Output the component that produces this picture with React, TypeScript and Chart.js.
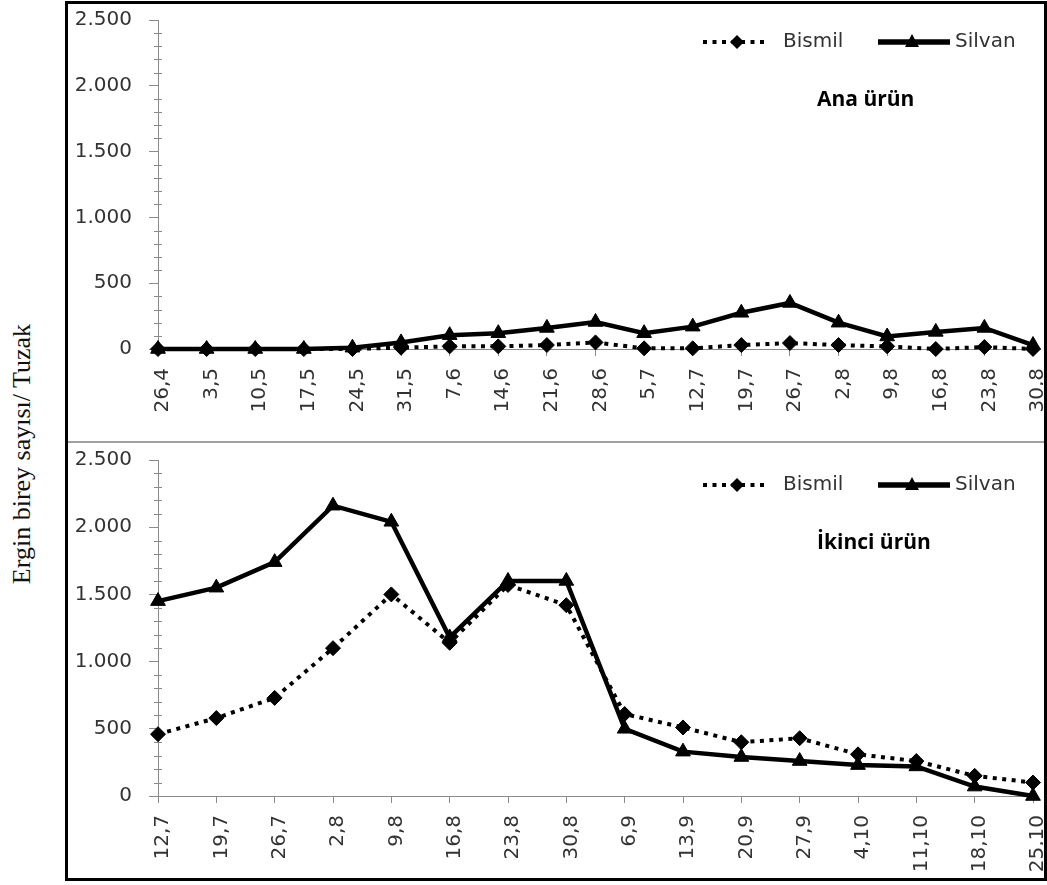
import React, { useEffect, useRef } from 'react';
import { Chart, registerables } from 'chart.js';

Chart.register(...registerables);

// ---- Data ----
const seriesNames = ['Bismil', 'Silvan'];

const topCategories = ['26,4', '3,5', '10,5', '17,5', '24,5', '31,5', '7,6', '14,6', '21,6', '28,6', '5,7', '12,7', '19,7', '26,7', '2,8', '9,8', '16,8', '23,8', '30,8'];
const topBismil = [0, 0, 0, 0, 0, 10, 20, 20, 30, 50, 5, 5, 30, 45, 30, 20, 0, 15, 0];
const topSilvan = [0, 0, 0, 0, 10, 50, 105, 120, 160, 205, 120, 170, 275, 350, 200, 95, 130, 160, 30];

const bottomCategories = ['12,7', '19,7', '26,7', '2,8', '9,8', '16,8', '23,8', '30,8', '6,9', '13,9', '20,9', '27,9', '4,10', '11,10', '18,10', '25,10'];
const bottomBismil = [460, 580, 730, 1100, 1500, 1140, 1570, 1420, 610, 510, 400, 430, 310, 260, 150, 100];
const bottomSilvan = [1450, 1550, 1740, 2160, 2040, 1180, 1600, 1600, 500, 330, 290, 260, 230, 220, 70, 0];

const yMin = 0;
const yMax = 2500;
const yStep = 500;
const yMinorStep = 100;

const panelTitles = ['Ana ürün', 'İkinci ürün'];
const axisTitle = 'Ergin birey sayısı/ Tuzak';

// ---- Styles ----
const TICK_FONT = 'DejaVu Sans';
const TICK_COLOR = '#333333';
const AXIS_COLOR = '#8a8a8a';

const formatTR = (v: number) => {
  const n = Math.round(v);
  if (n >= 1000) return `${Math.floor(n / 1000)}.${String(n % 1000).padStart(3, '0')}`;
  return String(n);
};

const decorPlugin = {
  id: 'decor',
  afterDraw(chart: any, _args: any, opts: any) {
    const ctx = chart.ctx as CanvasRenderingContext2D;
    const { left, right, top } = chart.chartArea;
    const ys = chart.scales.y;
    ctx.save();
    // minor ticks on the value axis
    ctx.strokeStyle = AXIS_COLOR;
    ctx.lineWidth = 1;
    for (let v = yMin + yMinorStep; v < yMax; v += yMinorStep) {
      if (v % yStep === 0) continue;
      const py = Math.round(ys.getPixelForValue(v)) + 0.5;
      ctx.beginPath();
      ctx.moveTo(left - 4, py);
      ctx.lineTo(left + 4, py);
      ctx.stroke();
    }

    // legend
    const ly = top + opts.legendDy;
    const ds = chart.data.datasets;
    // Bismil
    const b = ds[0];
    ctx.strokeStyle = b.borderColor;
    ctx.lineWidth = b.borderWidth;
    ctx.setLineDash(b.borderDash);
    ctx.beginPath();
    ctx.moveTo(right - 330, ly);
    ctx.lineTo(right - 266, ly);
    ctx.stroke();
    ctx.setLineDash([]);
    ctx.fillStyle = b.pointBackgroundColor;
    const dx = right - 296;
    ctx.beginPath();
    ctx.moveTo(dx, ly - 7);
    ctx.lineTo(dx + 7, ly);
    ctx.lineTo(dx, ly + 7);
    ctx.lineTo(dx - 7, ly);
    ctx.closePath();
    ctx.fill();
    ctx.fillStyle = TICK_COLOR;
    ctx.font = `20px "${TICK_FONT}"`;
    ctx.textBaseline = 'middle';
    ctx.textAlign = 'left';
    ctx.fillText(b.label, right - 250, ly);
    // Silvan
    const s = ds[1];
    ctx.strokeStyle = s.borderColor;
    ctx.lineWidth = s.borderWidth + 1;
    ctx.beginPath();
    ctx.moveTo(right - 155, ly);
    ctx.lineTo(right - 83, ly);
    ctx.stroke();
    ctx.fillStyle = s.pointBackgroundColor;
    const tx = right - 121;
    ctx.beginPath();
    ctx.moveTo(tx, ly - 8);
    ctx.lineTo(tx + 7, ly + 5);
    ctx.lineTo(tx - 7, ly + 5);
    ctx.closePath();
    ctx.fill();
    ctx.fillStyle = TICK_COLOR;
    ctx.fillText(s.label, right - 78, ly);

    // panel title
    ctx.fillStyle = '#000';
    ctx.font = 'bold 21px "Open Sans"';
    ctx.fillText(opts.title, right - 216, top + opts.titleDy);
    ctx.restore();
  },
};

type PanelProps = {
  categories: string[];
  bismil: number[];
  silvan: number[];
  title: string;
  xHeight: number;
  left: number;
  top: number;
  width: number;
  height: number;
  legendDy: number;
  titleDy: number;
};

function Panel(p: PanelProps) {
  const ref = useRef<HTMLCanvasElement>(null);
  useEffect(() => {
    let chart: Chart | null = null;
    let cancelled = false;
    const make = () => {
      if (cancelled || !ref.current) return;
      chart = new Chart(ref.current, {
        type: 'line',
        data: {
          labels: p.categories,
          datasets: [
            {
              label: seriesNames[0],
              data: p.bismil,
              borderColor: '#000',
              backgroundColor: '#000',
              pointBackgroundColor: '#000',
              pointBorderColor: '#000',
              borderWidth: 4,
              borderDash: [4, 5.5],
              pointStyle: 'rectRot',
              pointRadius: 7.5,
              pointBorderWidth: 1,
              tension: 0,
              clip: false,
              order: 2,
            } as any,
            {
              label: seriesNames[1],
              data: p.silvan,
              borderColor: '#000',
              backgroundColor: '#000',
              pointBackgroundColor: '#000',
              pointBorderColor: '#000',
              borderWidth: 4.5,
              pointStyle: 'triangle',
              pointRadius: 8.5,
              pointBorderWidth: 1,
              tension: 0,
              clip: false,
              order: 1,
            } as any,
          ],
        },
        options: {
          animation: false,
          responsive: false,
          events: [],
          layout: { padding: { left: 0, right: 10, top: 16, bottom: 0 } },
          plugins: {
            legend: { display: false },
            tooltip: { enabled: false },
            decor: { title: p.title, legendDy: p.legendDy, titleDy: p.titleDy },
          } as any,
          scales: {
            x: {
              type: 'category',
              offset: false,
              grid: { display: true, drawOnChartArea: false, tickLength: 7, color: AXIS_COLOR },
              border: { display: true, color: AXIS_COLOR, width: 1 },
              ticks: {
                autoSkip: false,
                maxRotation: 90,
                minRotation: 90,
                padding: 12,
                labelOffset: 5,
                color: TICK_COLOR,
                font: { family: TICK_FONT, size: 20 },
              },
              afterFit: (sc: any) => {
                sc.height = p.xHeight;
                sc.paddingLeft = 0;
                sc.paddingRight = 0;
              },
            } as any,
            y: {
              min: yMin,
              max: yMax,
              grid: { display: true, drawOnChartArea: false, tickLength: 9, color: AXIS_COLOR },
              border: { display: true, color: AXIS_COLOR, width: 1 },
              ticks: {
                stepSize: yStep,
                padding: 17,
                color: TICK_COLOR,
                font: { family: TICK_FONT, size: 20 },
                callback: (v: any) => formatTR(Number(v)),
              },
              afterFit: (sc: any) => {
                sc.width = 90;
                sc.paddingTop = 0;
                sc.paddingBottom = 0;
              },
            } as any,
          },
        },
        plugins: [decorPlugin as any],
      });
    };
    const fonts = (document as any).fonts;
    if (fonts && fonts.load) {
      Promise.all([
        fonts.load(`20px "${TICK_FONT}"`),
        fonts.load('bold 21px "Open Sans"'),
      ]).then(make, make);
    } else {
      make();
    }
    return () => {
      cancelled = true;
      if (chart) chart.destroy();
    };
  }, []);
  return (
    <canvas
      ref={ref}
      width={p.width}
      height={p.height}
      style={{ position: 'absolute', left: p.left, top: p.top, width: p.width, height: p.height }}
    />
  );
}

export default function App() {
  return (
    <div style={{ position: 'absolute', left: 0, top: 0, width: 1047, height: 885, background: '#fff', overflow: 'hidden' }}>
      <div
        style={{
          position: 'absolute',
          left: 22,
          top: 454,
          transform: 'translate(-50%, -50%) rotate(-90deg)',
          whiteSpace: 'nowrap',
          fontFamily: '"Liberation Serif", serif',
          fontSize: 26,
          color: '#111',
          lineHeight: 1,
        }}
      >
        {axisTitle}
      </div>
      <div
        style={{
          position: 'absolute',
          left: 65,
          top: 1,
          width: 982,
          height: 880,
          border: '3px solid #000',
          boxSizing: 'border-box',
        }}
      />
      <div style={{ position: 'absolute', left: 68, top: 441, width: 976, height: 2, background: '#a0a0a0' }} />
      <Panel
        categories={topCategories}
        bismil={topBismil}
        silvan={topSilvan}
        title={panelTitles[0]}
        xHeight={92}
        left={68}
        top={4}
        width={975}
        height={437}
        legendDy={22}
        titleDy={80}
      />
      <Panel
        categories={bottomCategories}
        bismil={bottomBismil}
        silvan={bottomSilvan}
        title={panelTitles[1]}
        xHeight={82}
        left={68}
        top={444}
        width={975}
        height={434}
        legendDy={25}
        titleDy={83}
      />
    </div>
  );
}
